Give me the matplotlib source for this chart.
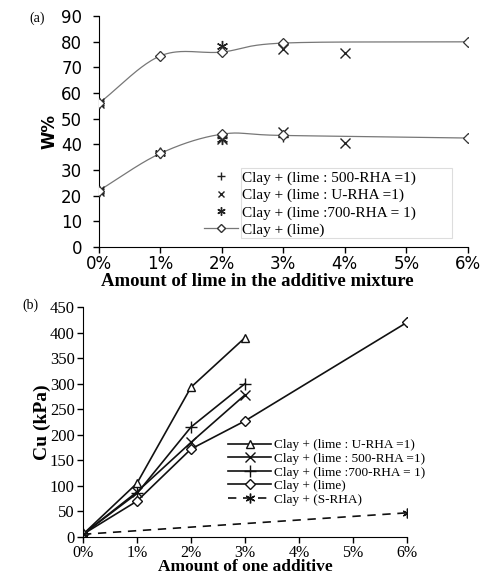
import matplotlib
matplotlib.use("Agg")
import matplotlib.pyplot as plt
from matplotlib.patches import Rectangle
import numpy as np

# ---- panel (a): water content, upper and lower curves ----
x_lime = [0, 1, 2, 3, 6]
lime_upper = [56, 74.5, 76, 79.5, 80]
lime_lower = [22, 36.5, 44, 43.5, 42.5]

x_500 = [0, 1, 2, 3]
rha500_upper = [56, 74.5, 76, 79]
rha500_lower = [21.5, 37, 42.5, 43]

x_u = [0, 3, 4]
u_upper = [56, 77, 75.5]
x_u_low = [0, 2, 3, 4]
u_lower = [22, 42, 45, 40.5]

x_700 = [0, 2]
rha700_upper = [56, 78.5]
x_700_low = [0, 1, 2]
rha700_lower = [22, 36.5, 42]

# ---- panel (b): undrained shear strength ----
x_b = [0, 1, 2, 3]
cu_u = [5, 105, 293, 390]
cu_500 = [5, 88, 185, 278]
cu_700 = [5, 85, 215, 300]
x_b_lime = [0, 1, 2, 3, 6]
cu_lime = [5, 70, 172, 227, 420]
x_srha = [0, 6]
cu_srha = [5, 47]

pct_labels = ["0%", "1%", "2%", "3%", "4%", "5%", "6%"]


def suavizar(x, y, n=40):
    # curva tipo Catmull-Rom entre los puntos (como la linea suavizada de Excel)
    x = np.asarray(x, float)
    y = np.asarray(y, float)
    px = np.concatenate([[2 * x[0] - x[1]], x, [2 * x[-1] - x[-2]]])
    py = np.concatenate([[2 * y[0] - y[1]], y, [2 * y[-1] - y[-2]]])
    xs, ys = [], []
    t = np.linspace(0, 1, n)
    for i in range(1, len(px) - 2):
        for p, out in ((px, xs), (py, ys)):
            p0, p1, p2, p3 = p[i - 1], p[i], p[i + 1], p[i + 2]
            out.extend(0.5 * (2 * p1 + (-p0 + p2) * t
                              + (2 * p0 - 5 * p1 + 4 * p2 - p3) * t ** 2
                              + (-p0 + 3 * p1 - 3 * p2 + p3) * t ** 3))
    return xs, ys


serif = "Liberation Serif"
sans = "DejaVu Sans"
estrella = (6, 2, 0)

fig = plt.figure(figsize=(4.94, 5.76), dpi=100)

# ---------------- (a) ----------------
ax1 = fig.add_axes([0.200, 0.571, 0.747, 0.401])
for yy in (lime_upper, lime_lower):
    sx, sy = suavizar(x_lime, yy)
    ax1.plot(sx, sy, color="#777777", lw=0.9)
    ax1.plot(x_lime, yy, ls="none", marker="D", ms=5.5, mfc="white",
             mec="#333333", mew=0.9, zorder=4)

ax1.plot(x_500, rha500_upper, ls="none", marker="+", ms=7, color="#222222", mew=1.0)
ax1.plot(x_500, rha500_lower, ls="none", marker="+", ms=7, color="#222222", mew=1.0)
ax1.plot(x_u, u_upper, ls="none", marker="x", ms=7, color="#222222", mew=1.0)
ax1.plot(x_u_low, u_lower, ls="none", marker="x", ms=7, color="#222222", mew=1.0)
ax1.plot(x_700, rha700_upper, ls="none", marker=estrella, ms=8, color="#222222", mew=1.0)
ax1.plot(x_700_low, rha700_lower, ls="none", marker=estrella, ms=8, color="#222222", mew=1.0)

h_500, = ax1.plot([], [], ls="none", marker="+", ms=6, color="#222222",
                  label="Clay + (lime : 500-RHA =1)")
h_u, = ax1.plot([], [], ls="none", marker="x", ms=5, color="#222222",
                label="Clay + (lime : U-RHA =1)")
h_700, = ax1.plot([], [], ls="none", marker=estrella, ms=6, color="#222222",
                  label="Clay + (lime :700-RHA = 1)")
h_lime, = ax1.plot([], [], color="#777777", lw=0.9, marker="D", ms=4.5,
                   mfc="white", mec="#333333", label="Clay + (lime)")
ax1.legend(handles=[h_500, h_u, h_700, h_lime], loc="upper left",
           bbox_to_anchor=(0.285, 0.33), frameon=False,
           prop={"family": serif, "size": 11}, handlelength=2.2,
           labelspacing=0.23, borderpad=0.0, borderaxespad=0.0,
           handletextpad=0.3)
# recuadro gris claro que solo rodea los textos de la leyenda
ax1.add_patch(Rectangle((0.385, 0.039), 0.572, 0.303, transform=ax1.transAxes,
                        fill=False, edgecolor="#dddddd", lw=0.8))

ax1.set_xlim(0, 6)
ax1.set_ylim(0, 90)
ax1.set_xticks(range(7))
ax1.set_xticklabels(pct_labels, family=sans, fontsize=12)
ax1.set_yticks(range(0, 91, 10))
ax1.set_yticklabels([str(v) for v in range(0, 91, 10)], family=sans, fontsize=12)
ax1.set_xlabel("Amount of lime in the additive mixture", family=serif,
               fontweight="bold", fontsize=13.5)
ax1.xaxis.set_label_coords(0.43, -0.11)
ax1.set_ylabel("W%", family=sans, fontweight="bold", fontsize=12, labelpad=2)
for s in ("top", "right"):
    ax1.spines[s].set_visible(False)
ax1.tick_params(direction="out", length=4, width=1)
ax1.tick_params(axis="y", pad=8)
ax1.tick_params(axis="x", pad=2)
fig.text(0.06, 0.962, "(a)", family=serif, fontsize=10)

# ---------------- (b) ----------------
ax2 = fig.add_axes([0.168, 0.068, 0.656, 0.399])
ax2.plot(x_b, cu_u, color="#111111", lw=1.2, marker="^", ms=6, mfc="white",
         mec="#111111", label="Clay + (lime : U-RHA =1)")
ax2.plot(x_b, cu_500, color="#111111", lw=1.2, marker="x", ms=7,
         label="Clay + (lime : 500-RHA =1)")
ax2.plot(x_b, cu_700, color="#111111", lw=1.2, marker="+", ms=8,
         label="Clay + (lime :700-RHA = 1)")
ax2.plot(x_b_lime, cu_lime, color="#111111", lw=1.2, marker="D", ms=5, mfc="white",
         mec="#111111", label="Clay + (lime)")
ax2.plot(x_srha, cu_srha, color="#111111", lw=1.2, ls=(0, (5, 4)),
         marker=estrella, ms=7, label="Clay + (S-RHA)")
ax2.legend(loc="upper left", bbox_to_anchor=(0.447, 0.425), frameon=False,
           prop={"family": serif, "size": 9.5}, handlelength=3.3,
           labelspacing=0.1, handletextpad=0.2, borderpad=0.0,
           borderaxespad=0.0)

ax2.set_xlim(0, 6)
ax2.set_ylim(0, 450)
ax2.set_xticks(range(7))
ax2.set_xticklabels(pct_labels, family=serif, fontsize=11.5)
ax2.set_yticks(range(0, 451, 50))
ax2.set_yticklabels([str(v) for v in range(0, 451, 50)], family=serif, fontsize=12)
ax2.set_xlabel("Amount of one additive", family=serif, fontweight="bold",
               fontsize=12.5)
ax2.xaxis.set_label_coords(0.5, -0.098)
for s in ("top", "right"):
    ax2.spines[s].set_visible(False)
ax2.set_ylabel("Cu (kPa)", family=serif, fontweight="bold", fontsize=14)
ax2.yaxis.set_label_coords(-0.10, 0.5)
ax2.tick_params(direction="out", length=4, width=1, pad=2)
ax2.tick_params(axis="x", pad=2)
fig.text(0.045, 0.463, "(b)", family=serif, fontsize=10)

fig.savefig("out.png", dpi=100)
